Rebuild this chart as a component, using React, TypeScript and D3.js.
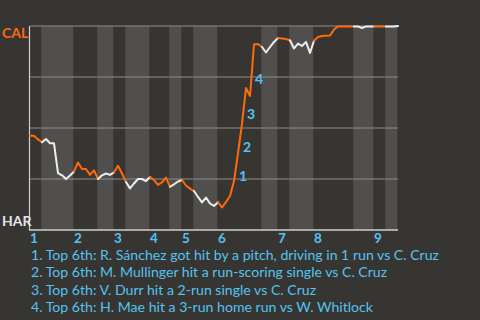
import React from 'react';
import * as d3 from 'd3';

const winProb: number[] = [
  0.462, 0.462, 0.444, 0.43, 0.446, 0.425, 0.425, 0.279, 0.268, 0.25,
  0.267, 0.287, 0.331, 0.299, 0.299, 0.27, 0.292, 0.25, 0.268, 0.277,
  0.27, 0.282, 0.315, 0.277, 0.235, 0.204, 0.228, 0.25, 0.25, 0.24,
  0.26, 0.245, 0.221, 0.234, 0.257, 0.212, 0.224, 0.238, 0.245, 0.218,
  0.203, 0.191, 0.162, 0.135, 0.159, 0.13, 0.118, 0.136, 0.111, 0.137,
  0.167, 0.24, 0.377, 0.52, 0.696, 0.657, 0.909, 0.912, 0.897, 0.87,
  0.897, 0.922, 0.941, 0.939, 0.936, 0.93, 0.89, 0.914, 0.902, 0.922,
  0.868, 0.928, 0.946, 0.951, 0.952, 0.953, 0.983, 0.998, 0.998, 0.998,
  0.998, 0.998, 0.998, 0.99, 0.998, 0.998, 0.998, 0.998, 0.998, 0.998,
  0.998, 0.998, 1.0,
];

// half-inning start indices (top, bottom alternating)
const halfInningStarts: number[] = [0, 3, 11, 17, 21, 24, 30, 35, 38, 41, 47, 58, 62, 65, 71, 81, 86, 89];
const inningLabels: string[] = ['1', '2', '3', '4', '5', '6', '7', '8', '9'];
const awayTeam = 'CAL';
const homeTeam = 'HAR';
const keyEventIndex: number[] = [52, 53, 54, 56];
const keyEventLabel: string[] = ['1', '2', '3', '4'];
const notes: string[] = [
  '1. Top 6th: R. Sánchez got hit by a pitch, driving in 1 run vs C. Cruz',
  '2. Top 6th: M. Mullinger hit a run-scoring single vs C. Cruz',
  '3. Top 6th: V. Durr hit a 2-run single vs C. Cruz',
  '4. Top 6th: H. Mae hit a 3-run home run vs W. Whitlock',
];
const gridTicks: number[] = [0.25, 0.5, 0.75, 1.0];

const W = 480, H = 320;
const BG = '#373532';
const BAND = '#504f4d';
const ORANGE = '#ff6a0a';
const WHITE = '#eeeeee';
const BLUE = '#55c2f0';
const FONT = 'Lato, "Open Sans", sans-serif';

export default function App() {
  const n = winProb.length - 1;
  const x = d3.scaleLinear().domain([0, n]).range([30, 398]);
  const y = d3.scaleLinear().domain([0, 1]).range([230, 26]);

  const halves = halfInningStarts.map((s, k) => {
    const e = k + 1 < halfInningStarts.length ? halfInningStarts[k + 1] : n;
    return { s, e, top: k % 2 === 0 };
  });

  const segPath = (s: number, e: number) => {
    const pts: [number, number][] = [];
    for (let i = s; i <= e; i++) pts.push([x(i), y(winProb[i])]);
    return d3.line()(pts) || '';
  };

  return (
    <svg width={W} height={H} style={{ position: 'absolute', left: 0, top: 0 }} fontFamily={FONT}>
      <rect x={0} y={0} width={W} height={H} fill={BG} />
      {halves.filter(h => !h.top).map((h, k) => (
        <rect key={k} x={x(h.s) - 0.75} y={y(1)} width={x(h.e) - x(h.s)} height={y(0) - y(1)} fill={BAND} />
      ))}
      {gridTicks.map((t, k) => (
        <line key={k} x1={x(0)} x2={x(n)} y1={y(t)} y2={y(t)} stroke="#8e8d8b" strokeWidth={1} />
      ))}
      <line x1={x(0) - 0.5} x2={x(0) - 0.5} y1={y(1)} y2={y(0)} stroke="#cfcfcf" strokeWidth={1.2} />
      <line x1={x(0) - 1} x2={x(n)} y1={y(0)} y2={y(0)} stroke="#cfcfcf" strokeWidth={1.5} />
      {halves.map((h, k) => (
        <path key={k} d={segPath(h.s, h.e)} fill="none" stroke={h.top ? ORANGE : WHITE} strokeWidth={2} strokeLinejoin="round" strokeLinecap="round" />
      ))}
      {keyEventIndex.map((idx, k) => {
        const mx = (x(idx - 1) + x(idx)) / 2;
        const my = (y(winProb[idx - 1]) + y(winProb[idx])) / 2;
        return (
          <text key={k} x={mx + 3} y={my + 8} dominantBaseline="central" fill={BLUE} fontWeight="bold" fontSize={14}>{keyEventLabel[k]}</text>
        );
      })}
      {halves.filter(h => h.top).map((h, k) => (
        <text key={k} x={x(h.s)} y={242.5} fill={BLUE} fontWeight="bold" fontSize={13.5}>{inningLabels[k]}</text>
      ))}
      <text x={2} y={38} fill={ORANGE} fontWeight="bold" fontSize={14}>{awayTeam}</text>
      <text x={2} y={226} fill="#e6e6e6" fontWeight="bold" fontSize={14}>{homeTeam}</text>
      {notes.map((t, k) => (
        <text key={k} x={31} y={259.5 + k * 17.6} fill={BLUE} fontSize={14.1}>{t}</text>
      ))}
    </svg>
  );
}
